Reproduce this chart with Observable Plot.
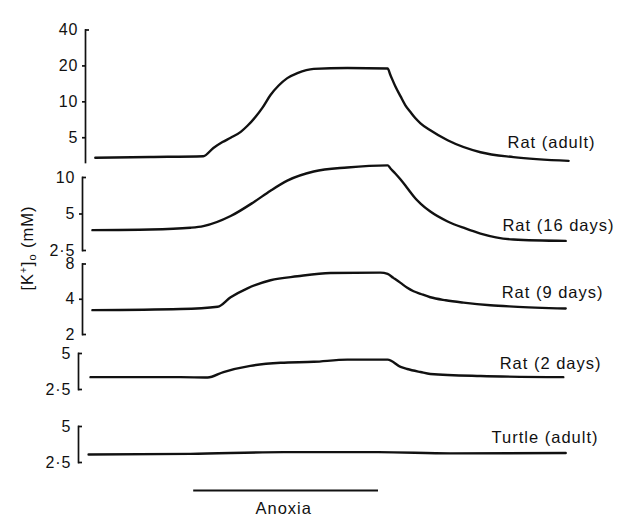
<!DOCTYPE html>
<html><head><meta charset="utf-8">
<script src="https://cdn.jsdelivr.net/npm/d3@7"></script>
<script src="https://cdn.jsdelivr.net/npm/@observablehq/plot@0.6"></script>
<style>
html,body{margin:0;padding:0;background:#fff;}
#chart{position:relative;width:623px;height:524px;background:#fff;overflow:hidden;}
#chart svg{position:absolute;left:0;top:0;}
#ylab{position:absolute;left:27px;top:248px;transform:translate(-50%,-50%) rotate(-90deg);font:16.5px "Liberation Sans",Arial,sans-serif;letter-spacing:1px;white-space:nowrap;color:#111;line-height:20px;}
#ylab sup{font-size:10px;vertical-align:6px;line-height:0;}
#ylab sub{font-size:11px;vertical-align:-3px;line-height:0;}
</style></head><body>
<div id="chart"><div id="ylab">[K<sup>+</sup>]<sub>o</sub> (mM)</div></div>
<script>
// ---- data ----
const seriesNames = ["Rat (adult)", "Rat (16 days)", "Rat (9 days)", "Rat (2 days)", "Turtle (adult)"];

const tAdult = [1, 12.5, 23.5, 25.6, 27.5, 29.2, 31.3, 32.7, 34.4, 35.8, 37.5, 39.2, 41.0, 43.1, 46.5, 53.5, 61.9, 62.5, 63.5, 64.6, 65.6, 66.7, 67.7, 68.75, 70.8, 74.4, 81.25, 88.1, 99.6];
const kAdult = [3.4, 3.45, 3.5, 4.1, 4.6, 5.0, 5.6, 6.3, 7.5, 8.9, 11.4, 13.7, 15.8, 17.4, 18.9, 19.2, 19.0, 16.7, 13.5, 11.1, 9.35, 8.17, 7.28, 6.61, 5.77, 4.76, 3.78, 3.44, 3.2];

const t16 = [0.4, 12.5, 20.8, 23.5, 29.2, 34.0, 37.5, 41.0, 46.5, 53.5, 61.9, 62.5, 63.5, 64.6, 65.6, 66.7, 67.7, 68.75, 70.8, 74.4, 78.1, 81.25, 88.1, 99.0];
const k16 = [3.68, 3.72, 3.85, 3.97, 4.81, 6.26, 7.78, 9.42, 11.2, 12.1, 12.6, 11.87, 10.79, 9.63, 8.59, 7.52, 6.71, 6.1, 5.24, 4.34, 3.8, 3.45, 3.08, 3.0];

const t9 = [0.4, 18.75, 26.5, 29.2, 32.7, 37.5, 43.1, 50.0, 60.4, 61.9, 63.1, 64.6, 66.0, 67.3, 68.75, 70.8, 74.0, 77.7, 83.3, 88.1, 99.0];
const k9 = [3.23, 3.3, 3.45, 4.16, 4.96, 5.81, 6.28, 6.7, 6.75, 6.58, 6.09, 5.52, 5.01, 4.68, 4.45, 4.16, 3.92, 3.74, 3.55, 3.46, 3.33];

const t2 = [0, 18.75, 24.4, 27.7, 33.3, 39.6, 46.5, 53.5, 61.9, 64.6, 66.0, 68.75, 70.8, 81.3, 98.5];
const k2 = [3.17, 3.17, 3.15, 3.5, 3.94, 4.18, 4.26, 4.44, 4.44, 3.86, 3.71, 3.5, 3.37, 3.24, 3.17];

const tTurtle = [-0.4, 20.8, 40.2, 60, 75, 99];
const kTurtle = [2.92, 2.95, 3.05, 3.05, 2.98, 3.0];

const ticksAdult = [40, 20, 10, 5];
const ticks16 = [10, 5, 2.5];
const ticks9 = [8, 4, 2];
const ticks2 = [5, 2.5];
const ticksTurtle = [5, 2.5];

const anoxia = [{start: 21.5, end: 60, label: "Anoxia"}];

// ---- layout (styles / positions) ----
const layout = [
  {t: tAdult, k: kAdult, ticks: ticksAdult, hooks: [40], mids: [20, 10, 5], domain: [3.1, 40], top: 29.5, bottom: 162, axisX: 85, labelX: 595, labelY: 142},
  {t: t16, k: k16, ticks: ticks16, hooks: [10, 2.5], mids: [5], domain: [2.5, 10], top: 177, bottom: 250, axisX: 82, labelX: 614, labelY: 225},
  {t: t9, k: k9, ticks: ticks9, hooks: [8, 2], mids: [4], domain: [2, 8], top: 263.5, bottom: 334, axisX: 82, labelX: 603, labelY: 292},
  {t: t2, k: k2, ticks: ticks2, hooks: [5, 2.5], mids: [], domain: [2.5, 5], top: 353, bottom: 389, axisX: 78, labelX: 601, labelY: 363},
  {t: tTurtle, k: kTurtle, ticks: ticksTurtle, hooks: [5, 2.5], mids: [], domain: [2.5, 5], top: 426, bottom: 462, axisX: 78, labelX: 598, labelY: 437}
];

const W = 623, H = 524;
const ink = "#111";
const fmt = d => String(d).replace(".", "\u00B7");
const baseStyle = {fontFamily: "'Liberation Sans', Arial, sans-serif", fontSize: "16px", letterSpacing: "1px", background: "transparent", overflow: "visible", color: ink};

const chart = document.getElementById("chart");

layout.forEach((p, i) => {
  const rows = p.t.map((t, j) => ({t, k: p.k[j]}));
  const marks = [
    Plot.frame({anchor: "left", stroke: ink, strokeWidth: 1.7}),
    Plot.axisY({ticks: p.ticks, tickSize: 0, tickPadding: 7, tickFormat: fmt, label: null, fontSize: 16}),
    Plot.axisY({ticks: p.hooks, tickSize: 4, dx: 4, tickFormat: () => "", label: null, stroke: ink, strokeWidth: 1.7}),
    p.mids.length ? Plot.axisY({ticks: p.mids, tickSize: 3, tickFormat: () => "", label: null, stroke: ink, strokeWidth: 1.7}) : null,
    Plot.line(rows, {x: "t", y: "k", curve: "monotone-x", stroke: ink, strokeWidth: 2.4}),
    Plot.text([seriesNames[i]], {frameAnchor: "top-left", lineAnchor: "middle", dx: p.labelX - p.axisX, dy: p.labelY - p.top, textAnchor: "end", fontSize: 16.5, fill: ink})
  ].filter(Boolean);
  const svg = Plot.plot({
    width: W, height: H,
    marginLeft: p.axisX, marginRight: W - 600, marginTop: p.top, marginBottom: H - p.bottom,
    x: {domain: [0, 100], range: [90, 570], axis: null},
    y: {type: "log", domain: p.domain},
    style: baseStyle,
    marks
  });
  chart.appendChild(svg);
});

const bar = Plot.plot({
  width: W, height: H,
  x: {domain: [0, 100], range: [90, 570], axis: null},
  y: {domain: [0, 1], range: [490, 508], axis: null},
  style: baseStyle,
  marks: [
    Plot.ruleY(anoxia, {x1: "start", x2: "end", y: 0, stroke: ink, strokeWidth: 2.2}),
    Plot.text(anoxia, {x: d => (d.start + d.end) / 2 - 0.5, y: 1, text: "label", fontSize: 16.5, fill: ink})
  ]
});
chart.appendChild(bar);
</script>
</body></html>
